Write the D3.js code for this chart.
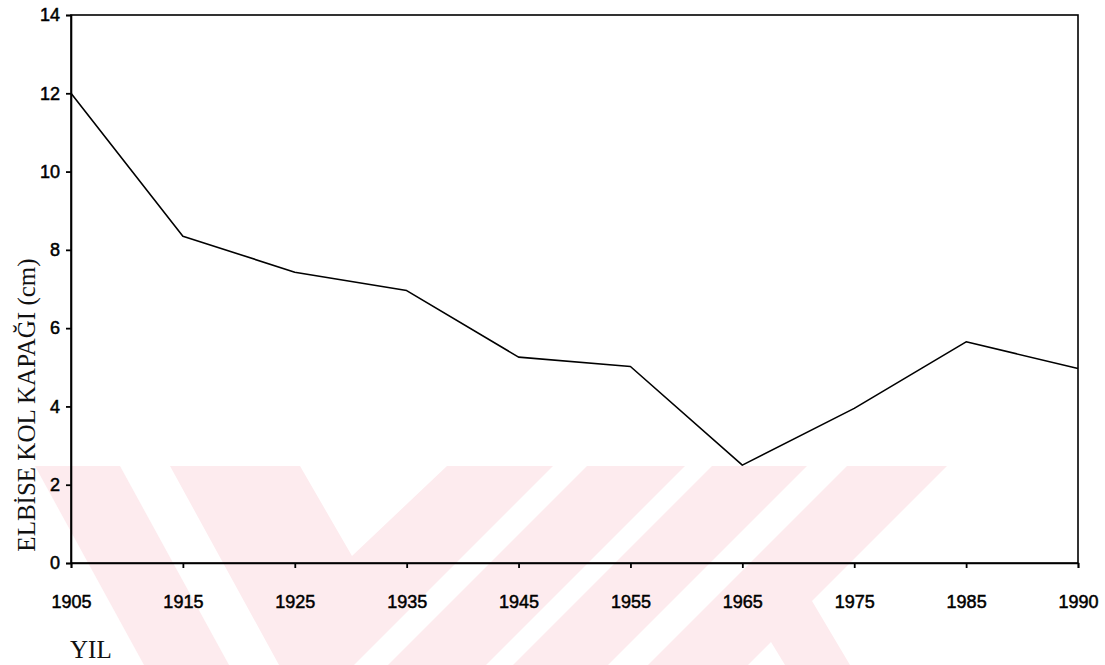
<!DOCTYPE html>
<html>
<head>
<meta charset="utf-8">
<script src="https://cdn.jsdelivr.net/npm/d3@7.9.0/dist/d3.min.js"></script>
<style>
  html, body { margin: 0; padding: 0; background: #fff; }
  svg { display: block; }
  .tick text { font-family: "Liberation Sans", Arial, sans-serif; font-size: 18px; fill: #000; stroke: #000; stroke-width: 0.5px; }
  .title { font-family: "Liberation Serif", "Times New Roman", serif; font-size: 25px; fill: #111; }
</style>
</head>
<body>
<svg id="chart" width="1105" height="665"></svg>
<script>
// data
const years = ['1905', '1915', '1925', '1935', '1945', '1955', '1965', '1975', '1985', '1990'];
const sleeveCap = [12.0, 8.35, 7.43, 6.96, 5.26, 5.02, 2.5, 3.95, 5.65, 4.97];
const yTicks = [0, 2, 4, 6, 8, 10, 12, 14];

const yLabel = 'ELBİSE KOL KAPAĞI (cm)';
const xLabel = 'YIL';

// faint pink watermark of the scan (decoration, not data)
const watermark = [
  [[35, 466], [120, 466], [229, 665], [144, 665]],
  [[170, 466], [300, 466], [352, 556], [447, 466], [553, 466], [354, 665], [279, 665]],
  [[587, 466], [685, 466], [486, 665], [388, 665]],
  [[712, 466], [807, 466], [608, 665], [513, 665]],
  [[847, 466], [947, 466], [812, 601], [850, 665], [785, 665], [771, 642], [748, 665], [648, 665]],
];

const svg = d3.select('#chart');
const plot = { left: 71, right: 1078, top: 15, bottom: 563 };

svg.append('g')
  .selectAll('path')
  .data(watermark)
  .join('path')
  .attr('d', (d) => d3.line()(d) + 'Z')
  .attr('fill', '#fdebee');

const x = d3.scalePoint().domain(years).range([plot.left, plot.right]);
const y = d3.scaleLinear().domain([0, 14]).range([plot.bottom, plot.top]);

// frame
svg.append('rect')
  .attr('x', plot.left).attr('y', plot.top)
  .attr('width', plot.right - plot.left).attr('height', plot.bottom - plot.top)
  .attr('fill', 'none').attr('stroke', '#000').attr('stroke-width', 1.6);

const yAxis = svg.append('g')
  .attr('transform', `translate(${plot.left},0)`)
  .call(d3.axisLeft(y).tickValues(yTicks).tickSize(5).tickPadding(6).tickFormat(d3.format('d')));

const xAxis = svg.append('g')
  .attr('transform', `translate(0,${plot.bottom})`)
  .call(d3.axisBottom(x).tickSize(5).tickPadding(27));

[yAxis, xAxis].forEach((g) => {
  g.select('.domain').attr('stroke', '#000').attr('stroke-width', 1.6);
  g.selectAll('.tick line').attr('stroke', '#000').attr('stroke-width', 1.8);
});

const line = d3.line()
  .x((d, i) => x(years[i]))
  .y((d) => y(d));

svg.append('path')
  .datum(sleeveCap)
  .attr('d', line)
  .attr('fill', 'none')
  .attr('stroke', '#000')
  .attr('stroke-width', 1.6)
  .attr('stroke-linejoin', 'round');

svg.append('text')
  .attr('class', 'title')
  .attr('transform', 'translate(35,405) rotate(-90)')
  .attr('text-anchor', 'middle')
  .text(yLabel);

svg.append('text')
  .attr('class', 'title')
  .attr('x', 70)
  .attr('y', 658)
  .text(xLabel);
</script>
</body>
</html>
